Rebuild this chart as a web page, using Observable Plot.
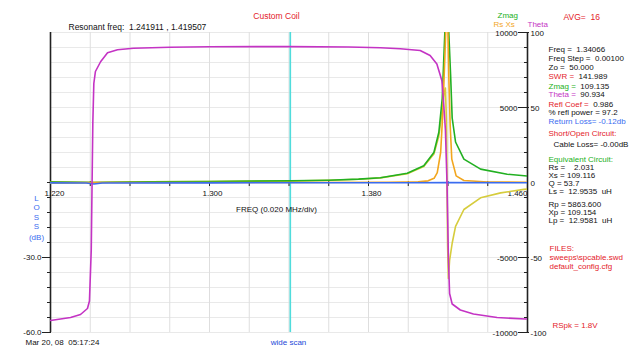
<!DOCTYPE html>
<html><head><meta charset="utf-8">
<script src="https://cdn.jsdelivr.net/npm/d3@7"></script>
<script src="https://cdn.jsdelivr.net/npm/@observablehq/plot@0.6"></script>
<style>
html,body{margin:0;padding:0;background:#fff;}
#chart{width:638px;height:347px;overflow:hidden;}
svg{font-family:"Liberation Sans",Arial,sans-serif;}
</style></head><body><div id="chart"></div>
<script>
// ---------- data ----------
const freqGrid = [1.22,1.24,1.26,1.28,1.30,1.32,1.34,1.36,1.38,1.40,1.42,1.44,1.46];
const freqLabels = [1.22,1.30,1.38,1.46];
const ohmGrid = [-10000,-9000,-8000,-7000,-6000,-5000,-4000,-3000,-2000,-1000,0,1000,2000,3000,4000,5000,6000,7000,8000,9000,10000];
const ohmLabels = [10000,5000,-5000,-10000];
const degLabels = [100,50,0,-50,-100];
const lossTicks = [0,-6,-12,-18,-24,-30,-36,-42,-48,-54,-60];
const lossLabels = [-30,-60];
const cursorFreq = 1.34066;

// [MHz, degrees]
const theta = [[1.220,-92],[1.2301,-90],[1.2351,-88],[1.2386,-84],[1.2396,-79],[1.2405,-45],[1.2413,40],[1.2418,66],[1.2426,74],[1.2452,80.5],[1.2487,86.5],[1.2537,88.5],[1.2617,89.5],[1.2800,90.2],[1.3000,90.5],[1.3400,90.6],[1.3700,90.3],[1.3860,89.8],[1.3960,89.2],[1.4060,88],[1.4110,84.7],[1.4144,79],[1.4169,68],[1.4177,55],[1.4187,35],[1.4195,0],[1.4202,-50],[1.4208,-74],[1.4221,-81],[1.4262,-85],[1.4328,-87.7],[1.4447,-90],[1.4590,-91],[1.4600,-91]];
// [MHz, ohms]
const zmag = [[1.220,45],[1.230,30],[1.238,12],[1.2419,3],[1.250,18],[1.270,42],[1.300,70],[1.3407,109],[1.360,155],[1.375,225],[1.386,320],[1.3995,620],[1.4078,1110],[1.4129,2000],[1.4154,3350],[1.4171,5600],[1.4179,8300],[1.4186,10600],[1.4202,10600],[1.4213,7200],[1.4221,4300],[1.4238,2700],[1.4280,1560],[1.4364,890],[1.4498,550],[1.4600,430]];
const rs = [[1.220,5],[1.300,3],[1.3407,2],[1.390,15],[1.405,40],[1.410,110],[1.4130,280],[1.4146,660],[1.4163,2000],[1.4174,4700],[1.4184,8300],[1.4190,10600],[1.4199,10600],[1.4204,7100],[1.4211,3800],[1.4219,1560],[1.4241,440],[1.4280,130],[1.440,35],[1.460,12]];
const xs = [[1.220,-45],[1.230,-30],[1.238,-12],[1.2419,0],[1.250,18],[1.270,42],[1.300,70],[1.3407,105],[1.360,150],[1.375,220],[1.386,310],[1.3995,580],[1.4078,1060],[1.4129,1900],[1.4154,3100],[1.4171,4800],[1.4180,5900],[1.4187,6300],[1.4192,4200],[1.4195,0],[1.4198,-4200],[1.4202,-6400],[1.4208,-5200],[1.4221,-4050],[1.4238,-2930],[1.4280,-1800],[1.4364,-1020],[1.4465,-690],[1.4582,-460],[1.4600,-440]];
// [MHz, dB]
const returnLoss = [[1.220,-0.15],[1.238,-0.2],[1.2419,-0.6],[1.246,-0.2],[1.300,-0.13],[1.34066,-0.12],[1.400,-0.1],[1.4195,-0.05],[1.460,-0.12]];

// ---------- layout ----------
const W = 638, H = 347, ML = 50, MR = 111, MT = 32, MB = 15;
const DEG = 100;            // 100 deg  <-> 10000 ohm
const DB = 10000 / 60;      // 60 dB    <-> 10000 ohm
const FONT = 8, TOPFONT = 8.5, AXFONT = 8;
const FAM = '"Liberation Sans", Arial, sans-serif';
const RED = "#e4222a", GREEN = "#22b022", MAG = "#c433c4", BLUE = "#3a6cf0", ORANGE = "#f2a61e", YELLOW = "#d6cc3c", CYAN = "#4fdcdc";

const ctx = document.createElement("canvas").getContext("2d");
const textWidth = (t, size) => { ctx.font = `${size}px ${FAM}`; return ctx.measureText(t).width; };

const note = (t, px, py, fill = "#111", anchor = "start", size = FONT) =>
  Plot.text([t], {frameAnchor: "top-left", dx: px - ML, dy: py - MT, fill, textAnchor: anchor, fontSize: size});
const pair = (label, value, px, py, fill) => [
  note(label, px, py, fill),
  note(value, px + textWidth(label + "  ", FONT), py)
];

const notes = [
  note("Resonant freq:  1.241911 , 1.419507", 68, 23, "#111", "start", TOPFONT),
  note("Custom Coil", 276, 12, RED, "middle", TOPFONT),
  note("Zmag", 497, 12, GREEN),
  note("Rs Xs", 493, 21, ORANGE),
  note("Theta", 527, 21, MAG),
  note("AVG=  16", 563, 13, RED, "start", TOPFONT),
  ...pair("Freq =", "1.34066", 548, 46, "#111"),
  ...pair("Freq Step =", "0.00100", 548, 55, "#111"),
  ...pair("Zo =", "50.000", 548, 64, "#111"),
  ...pair("SWR =", "141.989", 548, 73, RED),
  ...pair("Zmag =", "109.135", 548, 83, GREEN),
  ...pair("Theta =", "90.934", 548, 91, MAG),
  ...pair("Refl Coef =", "0.986", 548, 101, RED),
  note("% refl power = 97.2", 548, 109),
  note("Return Loss= -0.12db", 548, 118, BLUE),
  note("Short/Open Circuit:", 548, 130, RED),
  note("Cable Loss= -0.00dB", 553, 141),
  note("Equivalent Circuit:", 548, 156, GREEN),
  note("Rs =    2.031", 548, 164),
  note("Xs = 109.116", 548, 172),
  note("Q = 53.7", 548, 180),
  note("Ls =  12.9535  uH", 548, 188),
  note("Rp = 5863.600", 548, 201),
  note("Xp = 109.154", 548, 209),
  note("Lp =  12.9581  uH", 548, 217),
  note("FILES:", 549, 245, RED),
  note("sweeps\\spcable.swd", 549, 254, RED),
  note("default_config.cfg", 549, 263, RED),
  note("RSpk = 1.8V", 552, 322, RED),
  note("Mar 20, 08  05:17:24", 25, 339),
  note("wide scan", 288, 339, "#2448d8", "middle"),
  note("FREQ (0.020 MHz/div)", 276, 206, "#111", "middle"),
  note("L", 36, 195, BLUE, "middle"),
  note("O", 36, 204, BLUE, "middle"),
  note("S", 36, 214, BLUE, "middle"),
  note("S", 36, 223, BLUE, "middle"),
  note("(dB)", 36, 234, BLUE, "middle")
];

const xMin = freqGrid[0], xMax = freqGrid[freqGrid.length - 1];
const line = (data, fy, stroke) => Plot.line(data, {x: d => d[0], y: fy, stroke, strokeWidth: 1.6, clip: true});
const lab = {fontSize: AXFONT, fill: "#111"};

const chart = Plot.plot({
  width: W, height: H,
  marginLeft: ML, marginRight: MR, marginTop: MT, marginBottom: MB,
  x: {domain: [xMin, xMax], axis: null},
  y: {domain: [-10000, 10000], axis: null},
  style: {fontFamily: FAM, background: "#fff"},
  marks: [
    Plot.ruleY(ohmGrid, {stroke: "#e9e9e9", strokeWidth: 1}),
    Plot.ruleX(freqGrid, {stroke: "#dedede", strokeWidth: 1}),
    Plot.ruleX([cursorFreq], {stroke: CYAN, strokeWidth: 1.6}),
    Plot.ruleY([0], {stroke: "#444", strokeWidth: 1}),
    Plot.ruleX([xMin], {stroke: "#222", strokeWidth: 1.6}),
    Plot.ruleX([xMax], {stroke: "#222", strokeWidth: 1.6}),
    Plot.ruleX(freqGrid, {y1: 0, y2: 0, insetTop: -1, insetBottom: -4, stroke: "#222"}),
    Plot.ruleY(ohmGrid, {x1: xMax, x2: xMax, insetLeft: -3, stroke: "#222"}),
    Plot.ruleY(ohmLabels, {x1: xMax, x2: xMax, insetLeft: -9, insetRight: -2, stroke: "#222"}),
    Plot.ruleY(lossTicks, {y: d => d * DB, x1: xMin, x2: xMin, insetLeft: -3, insetRight: -1, stroke: "#222"}),
    Plot.ruleY(lossLabels, {y: d => d * DB, x1: xMin, x2: xMin, insetLeft: -8, stroke: "#222"}),
    Plot.text(ohmLabels, {x: xMax, y: d => d, dx: -10, dy: 1, textAnchor: "end", text: d => String(d), ...lab}),
    Plot.text(degLabels, {x: xMax, y: d => d * DEG, dx: 3, dy: 1, textAnchor: "start", text: d => String(d), ...lab}),
    Plot.text(lossLabels, {x: xMin, y: d => d * DB, dx: -9, textAnchor: "end", text: d => d.toFixed(1), ...lab}),
    Plot.text(freqLabels.slice(0, 1), {x: d => d, y: 0, dy: 11, dx: -6, textAnchor: "start", text: d => d.toFixed(3), ...lab}),
    Plot.text(freqLabels.slice(1, -1), {x: d => d, y: 0, dy: 11, dx: 3, textAnchor: "middle", text: d => d.toFixed(3), ...lab}),
    Plot.text(freqLabels.slice(-1), {x: d => d, y: 0, dy: 11, dx: 0, textAnchor: "end", text: d => d.toFixed(3), ...lab}),
    line(xs, d => d[1], YELLOW),
    line(zmag, d => d[1], GREEN),
    line(rs, d => d[1], ORANGE),
    line(returnLoss, d => d[1] * DB, BLUE),
    line(theta, d => d[1] * DEG, MAG),
    ...notes
  ]
});
document.getElementById("chart").appendChild(chart);
</script>
</body></html>
